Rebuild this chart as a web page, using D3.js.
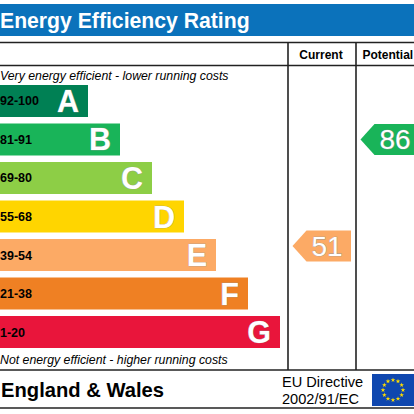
<!doctype html>
<html lang="en">
<head>
  <meta charset="utf-8">
  <title>Energy Efficiency Rating</title>
  <script src="https://d3js.org/d3.v7.min.js"></script>
  <style>
    body { margin: 0; background: #fff; }
    text { font-family: "Liberation Sans", Arial, sans-serif; }
  </style>
</head>
<body>
  <div id="chart"></div>
<script>
  // rating bands, top (best) to bottom (worst)
  var bands = ["A", "B", "C", "D", "E", "F", "G"];
  var band_ranges = ["92-100", "81-91", "69-80", "55-68", "39-54", "21-38", "1-20"];
  var band_floor = [92, 81, 69, 55, 39, 21, 1];
  var band_colors = ["#008054", "#19b459", "#8dce46", "#ffd500", "#fcaa65", "#ef8023", "#e9153b"];

  var columns = ["Current", "Potential"];
  var scores = [51, 86];

  var width = 414;
  var height = 414;

  var svg = d3.select('#chart').append('svg')
    .attr('width', width)
    .attr('height', height);

  // title bar
  svg.append('rect')
    .attr('x', 0).attr('y', 4)
    .attr('width', width).attr('height', 32)
    .attr('fill', '#0b72bb');
  svg.append('text')
    .attr('x', 0).attr('y', 27.5)
    .attr('fill', '#fff')
    .attr('font-size', 21.2)
    .attr('font-weight', 'bold')
    .text('Energy Efficiency Rating');

  // scales
  var y = d3.scaleBand()
    .domain(bands)
    .range([85, 348])
    .paddingInner(0.169)
    .paddingOuter(0);
  var bar_w = d3.scaleLinear()
    .domain([0, bands.length - 1])
    .range([88, 280]);
  var col = d3.scaleBand()
    .domain(columns)
    .range([288, 424]);
  var color = d3.scaleOrdinal()
    .domain(bands)
    .range(band_colors);

  // table frame
  var line_col = '#222';
  var grid = svg.append('g')
    .attr('stroke', line_col)
    .attr('stroke-width', 1.6);
  [42.5, 65.5, 370, 408].forEach(function(yy) {
    grid.append('line').attr('x1', 0).attr('x2', width).attr('y1', yy).attr('y2', yy);
  });
  columns.forEach(function(c) {
    grid.append('line')
      .attr('x1', col(c)).attr('x2', col(c))
      .attr('y1', 42.5).attr('y2', 370);
  });

  // column headers
  svg.append('text')
    .attr('x', col('Current') + col.bandwidth() / 2 - 1)
    .attr('y', 58.5)
    .attr('text-anchor', 'middle')
    .attr('font-size', 12)
    .attr('font-weight', 'bold')
    .text('Current');
  svg.append('text')
    .attr('x', col('Potential') + 6.5)
    .attr('y', 58.5)
    .attr('font-size', 12)
    .attr('font-weight', 'bold')
    .text('Potential');

  svg.append('text')
    .attr('x', 0).attr('y', 79.5)
    .attr('font-size', 12.3)
    .attr('font-style', 'italic')
    .text('Very energy efficient - lower running costs');
  svg.append('text')
    .attr('x', 0).attr('y', 363.5)
    .attr('font-size', 12.3)
    .attr('font-style', 'italic')
    .text('Not energy efficient - higher running costs');

  // bars
  var bar = svg.append('g').selectAll('g')
    .data(bands)
    .enter().append('g');
  bar.append('rect')
    .attr('x', 0)
    .attr('y', function(d) { return y(d); })
    .attr('width', function(d, i) { return bar_w(i); })
    .attr('height', y.bandwidth())
    .attr('fill', function(d) { return color(d); });
  bar.append('text')
    .attr('x', 0)
    .attr('y', function(d) { return y(d) + y.bandwidth() / 2 + 4.5; })
    .attr('font-size', 12.5)
    .attr('font-weight', 'bold')
    .text(function(d, i) { return band_ranges[i]; });
  bar.append('text')
    .attr('x', function(d, i) { return bar_w(i) - 9; })
    .attr('y', function(d) { return y(d) + y.bandwidth() / 2 + 11; })
    .attr('text-anchor', 'end')
    .attr('font-size', 30.5)
    .attr('font-weight', 'bold')
    .attr('fill', '#fff')
    .attr('stroke', '#999')
    .attr('stroke-width', 0.6)
    .attr('paint-order', 'stroke')
    .text(function(d) { return d; });

  // score arrows
  function band_of(score) {
    var i = band_floor.findIndex(function(f) { return score >= f; });
    return bands[i];
  }
  var nudge = [-9, 0]; // current arrow sits a little high in the original
  var arrow_h = 31;
  var arrow = svg.append('g').selectAll('g')
    .data(scores)
    .enter().append('g')
    .attr('transform', function(d, i) {
      var b = band_of(d);
      var yy = y(b) + y.bandwidth() / 2 - arrow_h / 2 + nudge[i];
      return 'translate(' + (col(columns[i]) + 4.5) + ',' + yy + ')';
    });
  arrow.append('path')
    .attr('d', 'M0,' + arrow_h / 2 + 'L14,0H58.5V' + arrow_h + 'H14Z')
    .attr('fill', function(d) { return color(band_of(d)); });
  arrow.append('text')
    .attr('x', 34.5)
    .attr('y', arrow_h / 2 + 10)
    .attr('text-anchor', 'middle')
    .attr('font-size', 28)
    .attr('fill', '#fff')
    .attr('stroke', '#999')
    .attr('stroke-width', 0.7)
    .attr('paint-order', 'stroke')
    .text(function(d) { return d; });

  // footer
  svg.append('text')
    .attr('x', 1).attr('y', 397)
    .attr('font-size', 20.2)
    .attr('font-weight', 'bold')
    .text('England & Wales');
  svg.append('text')
    .attr('x', 282).attr('y', 387)
    .attr('font-size', 14.6)
    .text('EU Directive');
  svg.append('text')
    .attr('x', 282).attr('y', 404)
    .attr('font-size', 14.6)
    .text('2002/91/EC');

  // EU flag
  var flag = svg.append('g').attr('transform', 'translate(372,374)');
  flag.append('rect')
    .attr('width', 42).attr('height', 32)
    .attr('fill', '#0f47af');
  flag.selectAll('path')
    .data(d3.range(12))
    .enter().append('path')
    .attr('d', d3.symbol(d3.symbolStar, 7))
    .attr('fill', '#ffdd00')
    .attr('transform', function(d) {
      var a = d / 12 * 2 * Math.PI;
      return 'translate(' + (21 + 10 * Math.sin(a)) + ',' + (16 - 10 * Math.cos(a)) + ')';
    });
</script>
</body>
</html>
